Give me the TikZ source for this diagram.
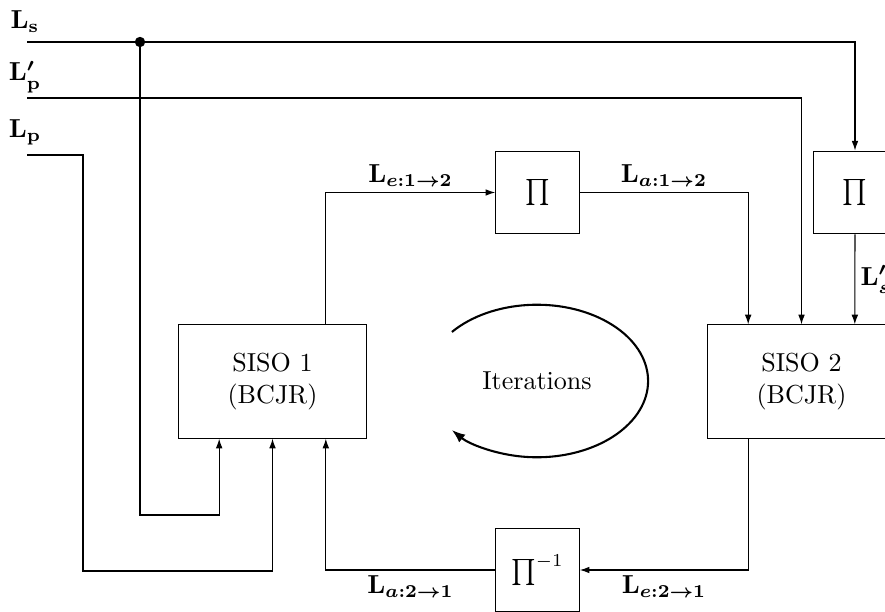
\documentclass[tikz,border=0pt]{standalone}
\usepackage{amsmath,amssymb}
\usepackage{tikz}
\usetikzlibrary{arrows.meta}
\newcommand{\llr}[1]{{\boldmath$\mathbf{L}#1$}}

\begin{document}
\begin{tikzpicture}[
    x=0.0135cm, y=-0.0135cm,
    siso/.style={draw, minimum width=2.55cm, minimum height=1.53cm,
        align=center, inner sep=0pt},
    perm/.style={draw, minimum width=1.13cm, minimum height=1.12cm, inner sep=0pt},
    flow/.style={-{Latex[length=1.3mm, width=0.9mm]}},
    lbl/.style={inner sep=2pt}
]
\useasboundingbox (0,0) rectangle (885,612);
\clip (0,0) rectangle (885,612);
\node[siso] (siso1) at (272.5,381.5) {SISO 1\\(BCJR)};
\node[siso] (siso2) at (801.5,381.5) {SISO 2\\(BCJR)};
\node[perm] (pione) at (537.5,192.5) {$\prod$};
\node[perm] (pitwo) at (855,192.5) {$\prod$};
\node[perm] (piinv) at (537.5,570) {$\prod^{-1}$};
\node (iter) at (537,381) {Iterations};
\coordinate (ls) at (27,42);
\coordinate (lpp) at (27,98);
\coordinate (lp) at (27,155);
\coordinate (split) at (140,42);
\node[lbl] (lslbl) at (25,22) {{\boldmath$\mathbf{L_s}$}};
\node[lbl] (lpplbl) at (25,77) {{\boldmath$\mathbf{L'_p}$}};
\node[lbl] (lplbl) at (25,132) {{\boldmath$\mathbf{L_p}$}};
% systematic / parity inputs
\draw[flow] (ls) -| (pitwo.north);
\fill (split) circle (0.07cm);
\draw[flow] (split) -- ++(0,473) -| ([xshift=-0.72cm]siso1.south);
\draw[flow] (lpp) -| (siso2.north);
\draw[flow] (lp) -- ++(56,0) -- ++(0,416) -| (siso1.south);
\draw[flow] (pitwo.south) -- node[right, lbl]{\llr{'_s}} ([xshift=0.72cm]siso2.north);
% extrinsic exchange
\draw[flow] ([xshift=0.72cm]siso1.north) |-
    node[pos=0.75, above, lbl]{\llr{_{e:1\rightarrow2}}} (pione.west);
\draw[flow] (pione.east) -|
    node[pos=0.25, above, lbl]{\llr{_{a:1\rightarrow2}}} ([xshift=-0.72cm]siso2.north);
\draw[flow] ([xshift=-0.72cm]siso2.south) |-
    node[pos=0.75, below, lbl]{\llr{_{e:2\rightarrow1}}} (piinv.east);
\draw[flow] (piinv.west) -|
    node[pos=0.25, below, lbl]{\llr{_{a:2\rightarrow1}}} ([xshift=0.72cm]siso1.south);
\draw[thick, -{Latex[length=1.8mm]}] ([shift={(140:1.5cm and 1.03cm)}]iter.center)
    arc[start angle=140, end angle=-140, x radius=1.5cm, y radius=1.03cm];
\end{tikzpicture}
\end{document}
